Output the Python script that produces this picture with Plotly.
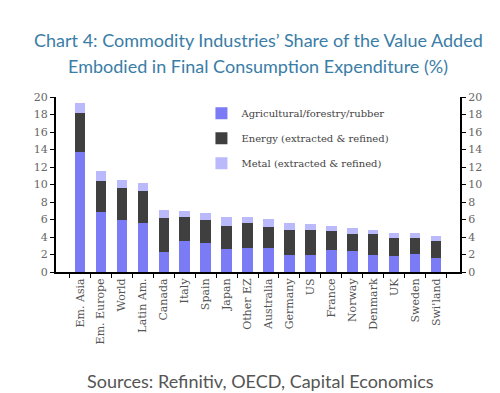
import plotly.graph_objects as go

categories = ["Em. Asia", "Em. Europe", "World", "Latin Am.", "Canada", "Italy", "Spain", "Japan",
              "Other EZ", "Australia", "Germany", "US", "France", "Norway", "Denmark", "UK",
              "Sweden", "Swi'land"]
agri = [13.7, 6.9, 5.9, 5.6, 2.3, 3.5, 3.3, 2.6, 2.7, 2.7, 2.0, 1.9, 2.5, 2.4, 1.9, 1.8, 2.1, 1.65]
energy = [4.5, 3.55, 3.7, 3.65, 3.9, 2.8, 2.7, 2.65, 2.95, 2.45, 2.8, 2.9, 2.2, 1.9, 2.45, 2.1, 1.75, 1.95]
metal = [1.1, 1.1, 0.9, 0.95, 0.85, 0.65, 0.7, 1.0, 0.65, 0.9, 0.75, 0.65, 0.55, 0.7, 0.5, 0.55, 0.65, 0.55]
series_names = ["Agricultural/forestry/rubber", "Energy (extracted & refined)", "Metal (extracted & refined)"]
y_ticks = list(range(0, 21, 2))

colors = ["#7b7bf5", "#3f3f3f", "#b9b9fb"]
fig = go.Figure()
for i, (name, vals) in enumerate(zip(series_names, [agri, energy, metal])):
    fig.add_trace(go.Bar(x=categories, y=vals, name=name, marker=dict(color=colors[i], line=dict(width=0)),
                         legendgroup=str(i)))
# invisible trace for right axis
fig.add_trace(go.Scatter(x=categories, y=[None]*len(categories), yaxis="y2", showlegend=False, hoverinfo="skip"))

tickfont = dict(family="DejaVu Serif", size=11, color="#666666")
fig.update_layout(
    width=500, height=393,
    barmode="stack", bargap=0.5,
    plot_bgcolor="white", paper_bgcolor="white",
    margin=dict(l=48, r=48, t=89, b=129),
    xaxis=dict(showline=True, linecolor="black", linewidth=2, ticks="outside", ticklen=4, tickcolor="black",
               tickson="boundaries", tickangle=-90, automargin=False,
               tickfont=dict(family="DejaVu Serif", size=11, color="#555555")),
    yaxis=dict(range=[0, 20], tickvals=y_ticks, showline=True, linecolor="black", linewidth=2,
               ticks="outside", ticklen=4, tickcolor="black", showgrid=False, zeroline=False, tickfont=tickfont,
               automargin=False),
    yaxis2=dict(range=[0, 20], tickvals=y_ticks, overlaying="y", side="right", showline=True, linecolor="black",
                linewidth=2, ticks="outside", ticklen=4, tickcolor="black", showgrid=False, zeroline=False,
                tickfont=tickfont, automargin=False),
    legend=dict(x=0.36, y=0.99, xanchor="left", yanchor="top", bgcolor="rgba(0,0,0,0)",
                font=dict(family="DejaVu Serif", size=10, color="#444444"), tracegroupgap=6,
                itemwidth=30),
    showlegend=True,
)
fig.add_annotation(text="Chart 4: Commodity Industries\u2019 Share of the Value Added", xref="paper", yref="paper",
                   x=0.5, y=1.326, xanchor="center", yanchor="middle", showarrow=False,
                   font=dict(family="Lato", size=18, color="#3a7da6"))
fig.add_annotation(text="Embodied in Final Consumption Expenditure (%)", xref="paper", yref="paper",
                   x=0.5, y=1.177, xanchor="center", yanchor="middle", showarrow=False,
                   font=dict(family="Lato", size=18, color="#3a7da6"))
fig.add_annotation(text="Sources: Refinitiv, OECD, Capital Economics", xref="paper", yref="paper",
                   x=0.505, y=-0.62, xanchor="center", yanchor="middle", showarrow=False,
                   font=dict(family="Lato", size=18, color="#555555"))
fig.write_html("out.html")
